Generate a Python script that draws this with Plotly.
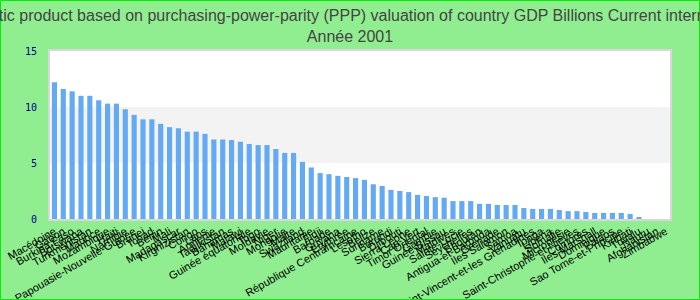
import plotly.graph_objects as go

countries = [
    "Macédoine", "Gabon", "Burkina Faso", "Botswana", "Turkménistan",
    "Maurice", "Mozambique", "Haïti", "Namibie", "Papouasie-Nouvelle-Guinée",
    "Brunei", "Tchad", "Bénin", "Mali", "Madagascar",
    "Kirghizistan", "Congo", "Laos", "Arménie", "Tadjikistan",
    "Bahamas", "Malawi", "Guinée équatoriale", "Togo", "Moldavie",
    "Niger", "Mongolie", "Malte", "Swaziland", "Mauritanie",
    "Fidji", "Barbade", "Guyana", "Erythrée", "République Centrafricaine",
    "Lesotho", "Belize", "Suriname", "Burundi", "Djibouti",
    "Sierra Leone", "Cap-Vert", "Timor Oriental", "Gambie", "Guinée-Bissau",
    "Maldives", "Sainte-Lucie", "Seychelles", "Bhoutan", "Antigua-et-Barbuda",
    "Grenade", "Iles Salomon", "Samoa", "Vanuatu", "Saint-Vincent-et-les Grenadines",
    "Tonga", "Libéria", "Somalie", "Micronésie", "Saint-Christophe-et-Niévès",
    "Comores", "Iles Marshall", "Dominique", "Palaos", "Sao Tome-et-Principe",
    "Kiribati", "Tuvalu", "Nauru", "Afghanistan", "Zimbabwe",
]

values = [
    12.2, 11.6, 11.4, 11.0, 11.0,
    10.6, 10.3, 10.3, 9.8, 9.3,
    8.9, 8.9, 8.5, 8.2, 8.1,
    7.8, 7.8, 7.6, 7.1, 7.1,
    7.05, 6.9, 6.7, 6.6, 6.6,
    6.25, 5.9, 5.9, 5.1, 4.6,
    4.1, 4.0, 3.85, 3.75, 3.65,
    3.5, 3.1, 2.95, 2.6, 2.5,
    2.4, 2.15, 2.05, 1.95, 1.9,
    1.6, 1.6, 1.6, 1.35, 1.35,
    1.25, 1.25, 1.25, 0.98, 0.9,
    0.9, 0.9, 0.8, 0.7, 0.7,
    0.63, 0.54, 0.54, 0.54, 0.54,
    0.45, 0.18, None, None, None,
]

y_ticks = [0, 5, 10, 15]
bands = [(5, 10)]

title_text = ("Gross domestic product based on purchasing-power-parity (PPP) valuation of "
              "country GDP Billions Current international dollar<br>Année 2001")

fig = go.Figure(go.Bar(x=countries, y=values, marker=dict(color="#63a9f4", line=dict(width=0))))

W, H = 700, 300
ml, mr, mt, mb = 50, 30, 51, 81
pw, ph = W - ml - mr, H - mt - mb

shapes = []
for y0, y1 in bands:
    shapes.append(dict(type="rect", xref="paper", yref="y", x0=0, x1=1, y0=y0, y1=y1,
                       fillcolor="#f3f3f3", line=dict(width=0), layer="below"))
# outer figure border
shapes.append(dict(type="rect", xref="paper", yref="paper",
                   x0=-(ml - 0.5) / pw, x1=1 + (mr - 0.5) / pw,
                   y0=-(mb - 0.5) / ph, y1=1 + (mt - 0.5) / ph,
                   line=dict(color="#00ee00", width=1), fillcolor="rgba(0,0,0,0)"))

fig.update_layout(
    width=W, height=H,
    margin=dict(l=ml, r=mr, t=mt, b=mb, autoexpand=False),
    paper_bgcolor="#90ee90",
    plot_bgcolor="#ffffff",
    bargap=0.42,
    showlegend=False,
    title=dict(text=title_text, x=0.5, xref="container", xanchor="center",
               y=0.93, yref="container", yanchor="top",
               font=dict(family="Liberation Sans, Arial", size=16, color="#444444")),
    shapes=shapes,
    xaxis=dict(type="category", tickmode="linear", dtick=1, tickangle=-30,
               tickfont=dict(family="Liberation Sans, Arial", size=11, color="#000000"),
               showline=True, linecolor="#d8d8d8", linewidth=2, mirror=True,
               showgrid=False, ticks="", automargin=False),
    yaxis=dict(range=[0, 15], tickvals=y_ticks,
               tickfont=dict(family="DejaVu Sans Mono, monospace", size=10, color="#00008b"),
               showline=True, linecolor="#d8d8d8", linewidth=2, mirror=True,
               showgrid=False, zeroline=False, ticks="", ticklabelstandoff=9, automargin=False),
)

fig.write_html("out.html")
